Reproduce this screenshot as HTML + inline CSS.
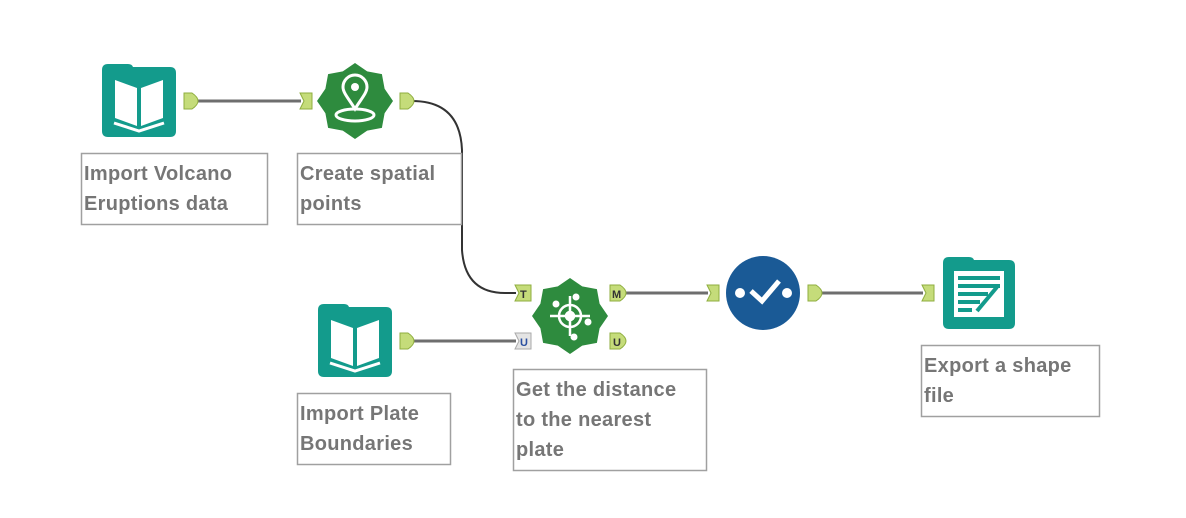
<!DOCTYPE html>
<html><head><meta charset="utf-8"><style>
html,body{margin:0;padding:0;background:#fff;width:1186px;height:518px;overflow:hidden}
svg{display:block}
text{font-family:"Liberation Sans",sans-serif;font-size:20px;font-weight:bold;letter-spacing:0.3px;fill:#767676}
</style></head><body>
<svg width="1186" height="518" viewBox="0 0 1186 518" xmlns="http://www.w3.org/2000/svg">
<defs>
<g id="book">
  <path d="M0 6 Q0 0 6 0 L26 0 Q30 0 31 3 L68 3 Q74 3 74 9 L74 67 Q74 73 68 73 L6 73 Q0 73 0 67 Z" fill="#139b8c"/>
  <path d="M13 16 L35 24 L35 62 L13 54 Z" fill="#fff"/>
  <path d="M39 24 L61 16 L61 54 L39 62 Z" fill="#fff"/>
  <path d="M12 59 L37 67 L62 59" fill="none" stroke="#fff" stroke-width="3"/>
</g>
<g id="outA"><path d="M0 0 L8 0 Q14 4 14 8 Q14 12 8 16 L0 16 Z" fill="#c5dc7a" stroke="#8fae3f" stroke-width="1"/></g>
<g id="inA"><path d="M0 0 L12 0 L12 16 L0 16 L4 8 Z" fill="#c5dc7a" stroke="#8fae3f" stroke-width="1"/></g>
</defs>

<g fill="none" stroke="#6e6e6e" stroke-width="3">
<line x1="198" y1="101" x2="301" y2="101"/>
<path d="M412 101 Q460 101 462 150 L462 250 Q465 293 505 293 L516 293" stroke="#333" stroke-width="2"/>
<line x1="412" y1="341" x2="516" y2="341"/>
<line x1="626" y1="293" x2="708" y2="293"/>
<line x1="820" y1="293" x2="923" y2="293"/>
</g>

<use href="#book" x="102" y="64"/>
<use href="#outA" x="184" y="93"/>

<use href="#inA" x="300" y="93"/>
<polygon id="star1" fill="#2e8b3e"/>
<g transform="translate(355,101)" fill="none" stroke="#fff" stroke-width="3">
  <path d="M0 8 C-6 -2 -12 -8 -12 -14 A12 12 0 0 1 12 -14 C12 -8 6 -2 0 8 Z"/>
  <circle cx="0" cy="-14" r="4" fill="#fff" stroke="none"/>
  <ellipse cx="0" cy="14" rx="19" ry="6"/>
</g>
<use href="#outA" x="400" y="93"/>

<use href="#book" x="318" y="304"/>
<use href="#outA" x="400" y="333"/>

<g transform="translate(515,285)"><path d="M0 0 L16 0 L16 16 L0 16 L4 8 Z" fill="#c5dc7a" stroke="#8fae3f"/><text x="5" y="13" style="font-size:11px;fill:#333;font-weight:bold;letter-spacing:0">T</text></g>
<g transform="translate(515,333)"><path d="M0 0 L16 0 L16 16 L0 16 L4 8 Z" fill="#e4e4e4" stroke="#aaa"/><text x="5" y="13" style="font-size:11px;fill:#2a4fa0;font-weight:bold;letter-spacing:0">U</text></g>
<polygon id="star2" fill="#2e8b3e"/>
<g transform="translate(570,316)" fill="none" stroke="#fff" stroke-width="2.5">
  <circle r="11"/><circle r="4" fill="#fff"/>
  <line x1="-20" y1="0" x2="20" y2="0"/><line x1="0" y1="-20" x2="0" y2="20"/>
  <circle cx="-14" cy="-12" r="3.5" fill="#fff" stroke="none"/>
  <circle cx="6" cy="-19" r="3.5" fill="#fff" stroke="none"/>
  <circle cx="18" cy="6" r="3.5" fill="#fff" stroke="none"/>
  <circle cx="4" cy="21" r="3.5" fill="#fff" stroke="none"/>
</g>
<g transform="translate(610,285)"><path d="M0 0 L10 0 Q16 4 16 8 Q16 12 10 16 L0 16 Z" fill="#c5dc7a" stroke="#8fae3f"/><text x="2" y="13" style="font-size:11px;fill:#333;font-weight:bold;letter-spacing:0">M</text></g>
<g transform="translate(610,333)"><path d="M0 0 L10 0 Q16 4 16 8 Q16 12 10 16 L0 16 Z" fill="#c5dc7a" stroke="#8fae3f"/><text x="3" y="13" style="font-size:11px;fill:#333;font-weight:bold;letter-spacing:0">U</text></g>

<use href="#inA" x="707" y="285"/>
<circle cx="763" cy="293" r="37" fill="#1a5a96"/>
<circle cx="740" cy="293" r="5" fill="#fff"/>
<circle cx="787" cy="293" r="5" fill="#fff"/>
<path d="M751 291 L762 301 L779 281" fill="none" stroke="#fff" stroke-width="5"/>
<use href="#outA" x="808" y="285"/>

<use href="#inA" x="922" y="285"/>
<g transform="translate(943,257)">
  <path d="M0 6 Q0 0 6 0 L26 0 Q30 0 31 3 L66 3 Q72 3 72 9 L72 66 Q72 72 66 72 L6 72 Q0 72 0 66 Z" fill="#139b8c"/>
  <rect x="11" y="14" width="50" height="46" fill="#fff"/>
  <rect x="15" y="19" width="42" height="4" fill="#139b8c"/>
  <rect x="15" y="27" width="42" height="4" fill="#139b8c"/>
  <rect x="15" y="35" width="30" height="4" fill="#139b8c"/>
  <rect x="15" y="43" width="22" height="4" fill="#139b8c"/>
  <rect x="15" y="51" width="14" height="4" fill="#139b8c"/>
  <path d="M34 54 L54 30" stroke="#139b8c" stroke-width="4"/>
</g>

<g fill="#fff" stroke="#a0a0a0" stroke-width="1.5">
<rect x="81.5" y="153.5" width="186" height="71"/>
<rect x="297.5" y="153.5" width="164" height="71"/>
<rect x="297.5" y="393.5" width="153" height="71"/>
<rect x="513.5" y="369.5" width="193" height="101"/>
<rect x="921.5" y="345.5" width="178" height="71"/>
</g>
<text x="84" y="180">Import Volcano</text>
<text x="84" y="210">Eruptions data</text>
<text x="300" y="180">Create spatial</text>
<text x="300" y="210">points</text>
<text x="300" y="420">Import Plate</text>
<text x="300" y="450">Boundaries</text>
<text x="516" y="396">Get the distance</text>
<text x="516" y="426">to the nearest</text>
<text x="516" y="456">plate</text>
<text x="924" y="372">Export a shape</text>
<text x="924" y="402">file</text>
</svg>
<script>
function star(id,cx,cy,ro,ri){var p=[];for(var i=0;i<16;i++){var a=Math.PI*2*i/16-Math.PI/2;var r=i%2?ri:ro;p.push((cx+r*Math.cos(a)).toFixed(1)+","+(cy+r*Math.sin(a)).toFixed(1));}document.getElementById(id).setAttribute("points",p.join(" "));}
star("star1",355,101,38,32);star("star2",570,316,38,32);
</script>
</body></html>
